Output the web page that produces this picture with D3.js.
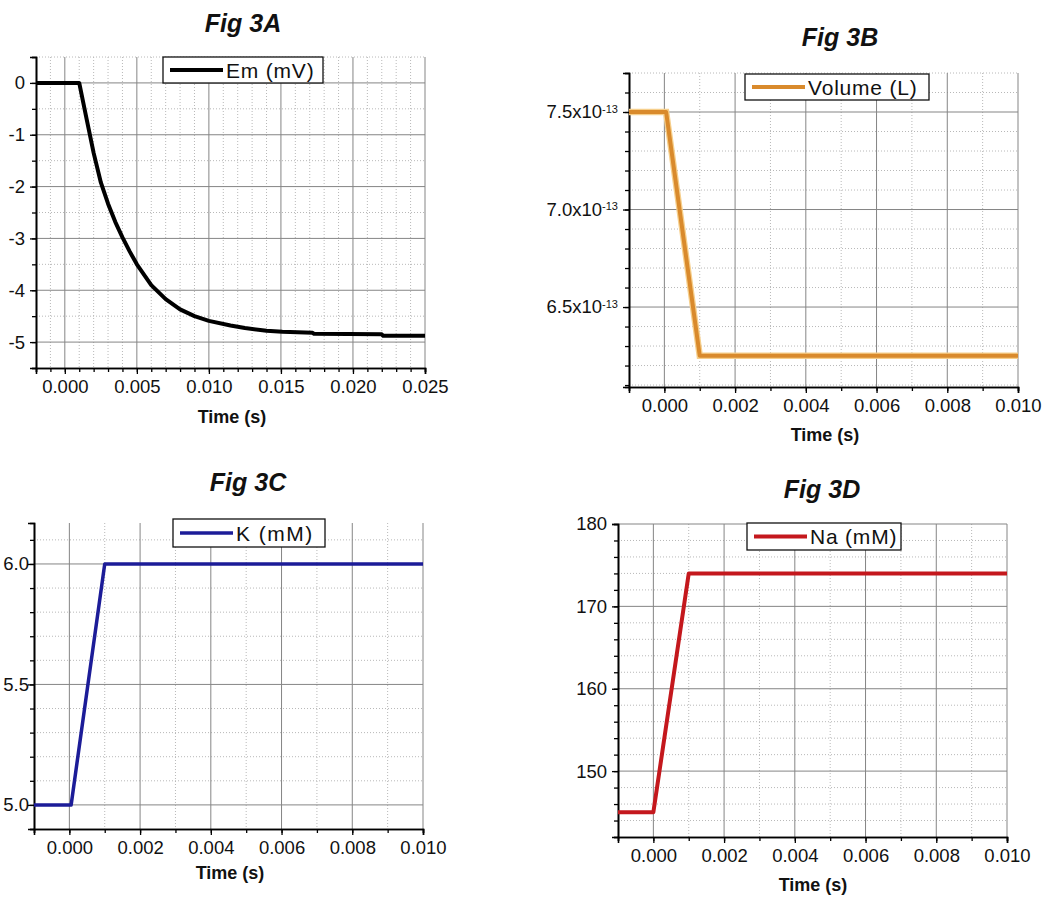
<!DOCTYPE html>
<html>
<head>
<meta charset="utf-8">
<script src="https://cdn.jsdelivr.net/npm/d3@7"></script>
<style>
body { margin: 0; background: #fff; }
svg text { font-family: "Liberation Sans", Arial, sans-serif; fill: #111; }
</style>
</head>
<body>
<div id="chart"></div>
<script>

// ---- data ----
var timeA = [-0.002, 0.001, 0.0015, 0.002, 0.0025, 0.003, 0.0035, 0.004, 0.0045, 0.005, 0.006, 0.007, 0.008, 0.009, 0.010, 0.0115, 0.0125, 0.014, 0.0151, 0.0172, 0.0173, 0.022, 0.0221, 0.025];
var emA   = [0, 0, -0.68, -1.35, -1.92, -2.33, -2.68, -2.98, -3.25, -3.50, -3.90, -4.17, -4.37, -4.50, -4.59, -4.68, -4.73, -4.78, -4.80, -4.82, -4.84, -4.85, -4.88, -4.88];

var timeB   = [-0.001, 0.00005, 0.001, 0.010];
var volumeB = [7.5e-13, 7.5e-13, 6.25e-13, 6.25e-13];

var timeC = [-0.001, 0.00005, 0.001, 0.010];
var kC    = [5.0, 5.0, 6.0, 6.0];

var timeD = [-0.001, 0.0, 0.001, 0.010];
var naD   = [145, 145, 174, 174];

var titles       = ["Fig 3A", "Fig 3B", "Fig 3C", "Fig 3D"];
var legendLabels = ["Em (mV)", "Volume (L)", "K (mM)", "Na (mM)"];
var xLabel       = "Time (s)";

var xTicksA   = [0, 0.005, 0.010, 0.015, 0.020, 0.025];
var xTicksBCD = [0, 0.002, 0.004, 0.006, 0.008, 0.010];
var yTicksA = [0, -1, -2, -3, -4, -5];
var yTicksB = [7.5e-13, 7.0e-13, 6.5e-13];
var yTicksC = [5.0, 5.5, 6.0];
var yTicksD = [150, 160, 170, 180];


var svg = d3.select("#chart").append("svg")
    .attr("width", 1042)
    .attr("height", 898);

function zip(xs, ys) {
    return xs.map(function(x, i) { return {t: x, v: ys[i]}; });
}

// plain hyphen minus like the original, not the unicode one d3.format gives
function hyphen(fmt) {
    return function(d) { return fmt(d).replace("\u2212", "-"); };
}

function drawPanel(p) {
    var x = d3.scaleLinear().domain(p.xDomain).range([p.left, p.right]);
    var y = d3.scaleLinear().domain(p.yDomain).range([p.bottom, p.top]);

    var g = svg.append("g");

    var xMinor = d3.range(p.xDomain[0], p.xDomain[1] + p.xMinorStep / 2, p.xMinorStep)
        .filter(function(d) { return d >= p.xDomain[0] - 1e-12; });
    var yStart = Math.ceil(p.yDomain[0] / p.yMinorStep - 1e-6) * p.yMinorStep;
    var yMinor = d3.range(yStart, p.yDomain[1] + p.yMinorStep / 100, p.yMinorStep);

    function isMajor(list, d, step) {
        return list.some(function(m) { return Math.abs(m - d) < step / 10; });
    }

    // minor grid (dotted)
    g.selectAll(".vminor").data(xMinor.filter(function(d) { return !isMajor(p.xMajor, d, p.xMinorStep) && d > p.xDomain[0] + 1e-9; }))
        .enter().append("line")
        .attr("x1", function(d) { return x(d); }).attr("x2", function(d) { return x(d); })
        .attr("y1", p.top).attr("y2", p.bottom)
        .attr("stroke", "#b8b8b8").attr("stroke-width", 1).attr("stroke-dasharray", "1,2");
    g.selectAll(".hminor").data(yMinor.filter(function(d) { return !isMajor(p.yMajor, d, p.yMinorStep) && d > p.yDomain[0] + p.yMinorStep / 100; }))
        .enter().append("line")
        .attr("x1", p.left).attr("x2", p.right)
        .attr("y1", function(d) { return y(d); }).attr("y2", function(d) { return y(d); })
        .attr("stroke", "#b8b8b8").attr("stroke-width", 1).attr("stroke-dasharray", "1,2");

    // major grid
    g.selectAll(".vmajor").data(p.xMajor).enter().append("line")
        .attr("x1", function(d) { return x(d); }).attr("x2", function(d) { return x(d); })
        .attr("y1", p.top).attr("y2", p.bottom)
        .attr("stroke", "#858585").attr("stroke-width", 1);
    g.selectAll(".hmajor").data(p.yMajor).enter().append("line")
        .attr("x1", p.left).attr("x2", p.right)
        .attr("y1", function(d) { return y(d); }).attr("y2", function(d) { return y(d); })
        .attr("stroke", "#858585").attr("stroke-width", 1);

    // axes
    var xAxisMinor = d3.axisBottom(x).tickValues(xMinor).tickSize(4).tickFormat("");
    var xAxis = d3.axisBottom(x).tickValues(p.xMajor).tickSize(6).tickPadding(6)
        .tickFormat(d3.format(".3f"));
    var yAxisMinor = d3.axisLeft(y).tickValues(yMinor).tickSize(4).tickFormat("");
    var yAxis = d3.axisLeft(y).tickValues(p.yMajor).tickSize(6)
        .tickPadding(p.yPad !== undefined ? p.yPad : 5)
        .tickFormat(hyphen(p.yFormat));

    function styleAxis(sel) {
        sel.select(".domain").attr("stroke", "#000").attr("stroke-width", 1.6);
        sel.selectAll(".tick line").attr("stroke", "#000").attr("stroke-width", 1.3);
        sel.selectAll("text").style("font-size", "18.5px").attr("fill", "#1a1a1a");
    }

    g.append("g").attr("transform", "translate(0," + p.bottom + ")").call(xAxisMinor).call(styleAxis);
    g.append("g").attr("transform", "translate(0," + p.bottom + ")").call(xAxis).call(styleAxis);
    g.append("g").attr("transform", "translate(" + p.left + ",0)").call(yAxisMinor).call(styleAxis);
    var yg = g.append("g").attr("transform", "translate(" + p.left + ",0)").call(yAxis).call(styleAxis);

    if (p.sciLabels) {
        yg.selectAll(".tick text").each(function(d) {
            var t = d3.select(this).text("");
            t.append("tspan").text((d * 1e13).toFixed(1) + "x10");
            t.append("tspan").attr("dy", "-0.5em").style("font-size", "11px").text("-13");
        });
    }

    // series
    var line = d3.line()
        .x(function(d) { return x(d.t); })
        .y(function(d) { return y(d.v); });

    if (p.glow) {
        g.append("path").datum(p.data).attr("d", line)
            .attr("fill", "none").attr("stroke", p.glow).attr("stroke-width", p.lineWidth + 2.5)
            .attr("stroke-linejoin", "miter");
    }
    g.append("path").datum(p.data).attr("d", line)
        .attr("fill", "none").attr("stroke", p.color).attr("stroke-width", p.lineWidth)
        .attr("stroke-linejoin", "round");

    // legend
    var lg = g.append("g").attr("transform", "translate(" + p.legend[0] + "," + p.legend[1] + ")");
    lg.append("rect").attr("width", p.legend[2]).attr("height", p.legend[3])
        .attr("fill", "#fff").attr("stroke", "#111").attr("stroke-width", 1.3);
    lg.append("line").attr("x1", 7).attr("x2", 60)
        .attr("y1", p.legend[3] / 2).attr("y2", p.legend[3] / 2)
        .attr("stroke", p.color).attr("stroke-width", p.lineWidth);
    lg.append("text").attr("x", 63).attr("y", p.legend[3] / 2 + 7.5)
        .style("font-size", "21px").style("letter-spacing", p.legendSpacing || "0.8px")
        .text(p.legendLabel);

    // title + x label
    g.append("text").attr("x", p.titlePos[0]).attr("y", p.titlePos[1])
        .attr("text-anchor", "middle")
        .style("font-size", "25px").style("font-weight", "bold").style("font-style", "italic")
        .text(p.title);
    g.append("text").attr("x", p.xLabelPos[0]).attr("y", p.xLabelPos[1])
        .attr("text-anchor", "middle")
        .style("font-size", "18px").style("font-weight", "bold")
        .text(xLabel);
}

drawPanel({
    left: 36, right: 425, top: 57, bottom: 368,
    xDomain: [-0.002, 0.025], yDomain: [-5.5, 0.5],
    xMajor: xTicksA, xMinorStep: 0.001,
    yMajor: yTicksA, yMinorStep: 0.5,
    yFormat: d3.format("d"),
    data: zip(timeA, emA), color: "#000", lineWidth: 4,
    legend: [163, 57, 160, 26], legendLabel: legendLabels[0],
    title: titles[0], titlePos: [243, 32], xLabelPos: [232, 423]
});

drawPanel({
    left: 629, right: 1018, top: 73, bottom: 387,
    xDomain: [-0.001, 0.010], yDomain: [6.09e-13, 7.7e-13],
    xMajor: xTicksBCD, xMinorStep: 0.001,
    yMajor: yTicksB, yMinorStep: 0.1e-13,
    yFormat: d3.format(".1e"), sciLabels: true,
    data: zip(timeB, volumeB), color: "#d98a2c", glow: "#f6cf8c", lineWidth: 4,
    legend: [745, 74, 184, 26], legendLabel: legendLabels[1],
    title: titles[1], titlePos: [840, 46], xLabelPos: [825, 441]
});

drawPanel({
    left: 34, right: 423, top: 523, bottom: 829,
    xDomain: [-0.001, 0.010], yDomain: [4.9, 6.17],
    xMajor: xTicksBCD, xMinorStep: 0.001,
    yMajor: yTicksC, yMinorStep: 0.1, yPad: -1,
    yFormat: d3.format(".1f"),
    data: zip(timeC, kC), color: "#1c1c98", lineWidth: 3.5,
    legend: [173, 519, 152, 28], legendLabel: legendLabels[2], legendSpacing: "1.5px",
    title: titles[2], titlePos: [248, 491], xLabelPos: [230, 879]
});

drawPanel({
    left: 618, right: 1007, top: 524, bottom: 837,
    xDomain: [-0.001, 0.010], yDomain: [142, 180],
    xMajor: xTicksBCD, xMinorStep: 0.001,
    yMajor: yTicksD, yMinorStep: 2,
    yFormat: d3.format("d"),
    data: zip(timeD, naD), color: "#c4181d", lineWidth: 4,
    legend: [747, 523, 154, 27], legendLabel: legendLabels[3],
    title: titles[3], titlePos: [822, 498], xLabelPos: [813, 891]
});

</script>
</body>
</html>
